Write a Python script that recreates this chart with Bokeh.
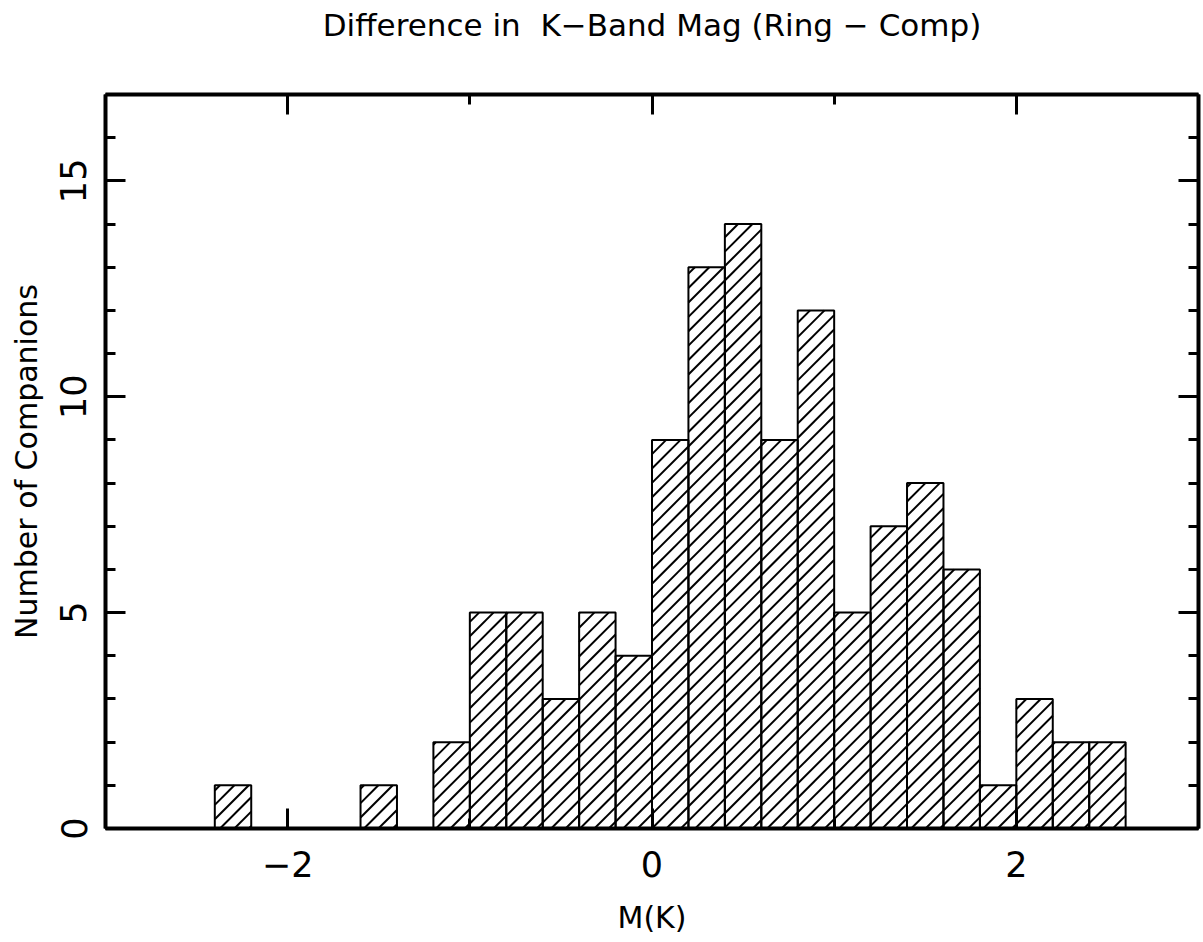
from bokeh.plotting import figure
from bokeh.models import ColumnDataSource, FixedTicker, LinearAxis, Range1d
from bokeh.embed import file_html
from bokeh.resources import INLINE

# ---- data ----
bin_width = 0.2
bin_left = [-2.4, -1.6, -1.2, -1.0, -0.8, -0.6, -0.4, -0.2, 0.0, 0.2, 0.4,
            0.6, 0.8, 1.0, 1.2, 1.4, 1.6, 1.8, 2.0, 2.2, 2.4]
counts = [1, 1, 2, 5, 5, 3, 5, 4, 9, 13, 14,
          9, 12, 5, 7, 8, 6, 1, 3, 2, 2]
x_major = [-2, 0, 2]
x_minor = [-3, -2, -1, 0, 1, 2, 3]
y_major = [0, 5, 10, 15]
y_minor = list(range(0, 18))

title_text = "Difference in\u00a0\u00a0K\u2212Band Mag (Ring \u2212 Comp)"
x_label = "M(K)"
y_label = "Number of Companions"

# ---- layout ----
W, H = 1203, 942
B_LEFT, B_RIGHT, B_TOP, B_BOTTOM = 105, 5, 94, 114
X_MIN, X_MAX, Y_MIN, Y_MAX = -3, 3, 0, 17
FRAME_W = W - B_LEFT - B_RIGHT
FRAME_H = H - B_TOP - B_BOTTOM
SX = FRAME_W / (X_MAX - X_MIN)   # px per x unit
SY = FRAME_H / (Y_MAX - Y_MIN)   # px per y unit
HATCH_GAP = 14.4                 # vertical px between hatch lines (45 deg "/")

bin_right = [b + bin_width for b in bin_left]
src = ColumnDataSource(dict(left=bin_left, right=bin_right, top=counts,
                            bottom=[0] * len(counts)))

# 45-degree hatch lines clipped to each bar (derived from the bars above)
hx0, hy0, hx1, hy1 = [], [], [], []
for lo_x, hi_x, cnt in zip(bin_left, bin_right, counts):
    X0, X1, YT = lo_x * SX, hi_x * SX, cnt * SY
    k = int((X0 - YT) // HATCH_GAP)
    while k * HATCH_GAP <= X1:
        c = k * HATCH_GAP
        a, b = max(X0, c), min(X1, YT + c)
        if b - a > 0.5:
            hx0.append(a / SX); hy0.append((a - c) / SY)
            hx1.append(b / SX); hy1.append((b - c) / SY)
        k += 1
hsrc = ColumnDataSource(dict(x0=hx0, y0=hy0, x1=hx1, y1=hy1))

FONT = "DejaVu Sans"

p = figure(width=W, height=H, output_backend="svg", toolbar_location=None,
           x_range=Range1d(X_MIN, X_MAX), y_range=Range1d(Y_MIN, Y_MAX),
           x_axis_location=None, y_axis_location=None,
           min_border_left=B_LEFT, min_border_right=B_RIGHT,
           min_border_top=B_TOP, min_border_bottom=B_BOTTOM)
p.outline_line_color = None
p.grid.visible = False
p.background_fill_color = "white"
p.border_fill_color = "white"

p.quad(left="left", right="right", top="top", bottom="bottom", source=src,
       fill_color="white", line_color=None)
p.segment(x0="x0", y0="y0", x1="x1", y1="y1", source=hsrc,
          line_color="black", line_width=2)
p.quad(left="left", right="right", top="top", bottom="bottom", source=src,
       fill_color=None, line_color="black", line_width=2)


def style(ax, labels=True):
    ax.axis_line_width = 4
    ax.axis_line_color = "black"
    ax.major_tick_in = 20
    ax.major_tick_out = 0
    ax.minor_tick_in = 10
    ax.minor_tick_out = 0
    ax.major_tick_line_width = 3
    ax.minor_tick_line_width = 3
    ax.major_tick_line_color = "black"
    ax.minor_tick_line_color = "black"
    if not labels:
        ax.major_label_text_font_size = "0px"
        ax.major_label_text_color = None
    else:
        ax.major_label_text_font = FONT
        ax.major_label_text_font_size = "35px"
        ax.major_label_text_color = "black"
    ax.axis_label_text_font = FONT
    ax.axis_label_text_font_style = "normal"
    ax.axis_label_text_font_size = "30px"
    ax.axis_label_text_color = "black"


xt = FixedTicker(ticks=x_major, minor_ticks=x_minor)
yt = FixedTicker(ticks=y_major, minor_ticks=y_minor)

bottom = LinearAxis(ticker=xt, axis_label=x_label)
style(bottom)
bottom.major_label_standoff = 22
bottom.axis_label_standoff = 20
p.add_layout(bottom, "below")

left = LinearAxis(ticker=yt, axis_label=y_label)
style(left)
left.major_label_orientation = "vertical"
left.major_label_standoff = 19
left.axis_label_standoff = 14
p.add_layout(left, "left")

# top axis carries the chart title as its label
top = LinearAxis(ticker=xt, axis_label=title_text)
style(top, labels=False)
top.major_label_standoff = 0
top.axis_label_text_font_size = "31px"
top.axis_label_standoff = 52
p.add_layout(top, "above")

right = LinearAxis(ticker=yt)
style(right, labels=False)
right.major_label_standoff = 0
p.add_layout(right, "right")

open("out.html", "w").write(file_html(p, INLINE))
